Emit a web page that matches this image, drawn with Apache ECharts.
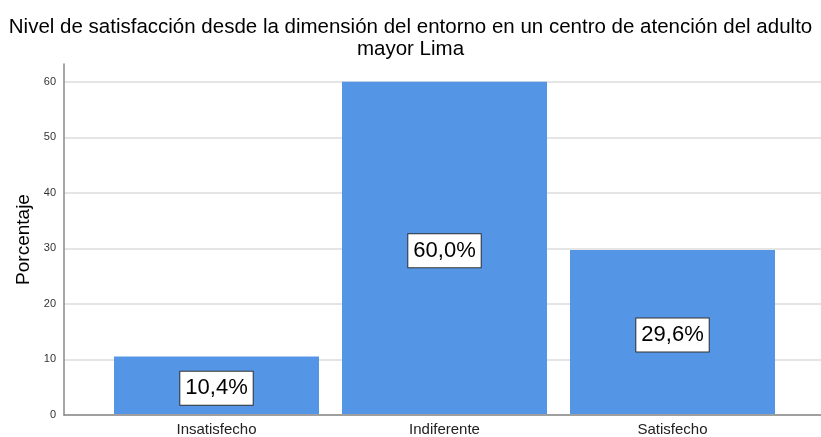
<!DOCTYPE html>
<html>
<head>
<meta charset="utf-8">
<script src="https://cdn.jsdelivr.net/npm/echarts@6/dist/echarts.min.js"></script>
<style>html,body{margin:0;padding:0;background:#fff;}#c{width:821px;height:437px;}</style>
</head>
<body>
<div id="c"></div>
<script>
const categories = ['Insatisfecho', 'Indiferente', 'Satisfecho'];
const values = [10.4, 60.0, 29.6];
const yTicks = [0, 10, 20, 30, 40, 50, 60];
const titleText = 'Nivel de satisfacción desde la dimensión del entorno en un centro de atención del adulto\nmayor Lima';
const yName = 'Porcentaje';

const FONT = '"Liberation Sans", Arial, sans-serif';
const YMAX = 63.2;
const chart = echarts.init(document.getElementById('c'), null, {renderer: 'canvas'});
chart.setOption({
  animation: false,
  backgroundColor: '#fff',
  title: {
    text: titleText, left: 'center', top: 11,
    textStyle: {fontFamily: FONT, fontSize: 20.5, fontWeight: 'normal', color: '#000', lineHeight: 22}
  },
  grid: [
    {left: 64, right: 0, top: 64, bottom: 22},
    {left: 102.5, right: 34.5, top: 64, bottom: 22}
  ],
  xAxis: [
    {gridIndex: 0, type: 'category', data: [''], axisLine: {lineStyle: {color: '#888', width: 1.5}},
     axisTick: {show: false}, axisLabel: {show: false}},
    {gridIndex: 1, type: 'category', data: categories, axisLine: {show: false}, axisTick: {show: false},
     axisLabel: {fontFamily: FONT, fontSize: 15, color: '#222', margin: 8}}
  ],
  yAxis: [
    {gridIndex: 0, type: 'value', min: 0, max: YMAX, interval: 10,
     name: yName, nameLocation: 'middle', nameGap: 25, nameRotate: 90,
     nameTextStyle: {fontFamily: FONT, fontSize: 19, color: '#000'},
     axisLine: {show: true, lineStyle: {color: '#888', width: 1.5}},
     axisTick: {show: false},
     axisLabel: {fontFamily: FONT, fontSize: 11, color: '#333', margin: 8, showMaxLabel: false,
       formatter: v => yTicks.includes(v) ? String(v) : ''},
     splitLine: {show: true, showMaxLine: false, lineStyle: {color: '#dcdcdc', width: 1.5}}},
    {gridIndex: 1, type: 'value', min: 0, max: YMAX, show: false, splitLine: {show: false}}
  ],
  series: [{
    type: 'bar', xAxisIndex: 1, yAxisIndex: 1, data: values, barWidth: 205,
    itemStyle: {color: '#5595e5'},
    label: {
      show: true, position: 'inside', offset: [0, 3],
      formatter: p => p.value.toFixed(1).replace('.', ',') + '%',
      fontFamily: FONT, fontSize: 22, color: '#000',
      backgroundColor: '#fff', borderColor: '#333', borderWidth: 1, padding: [6, 5, 5, 5]
    }
  }]
});
</script>
</body>
</html>
